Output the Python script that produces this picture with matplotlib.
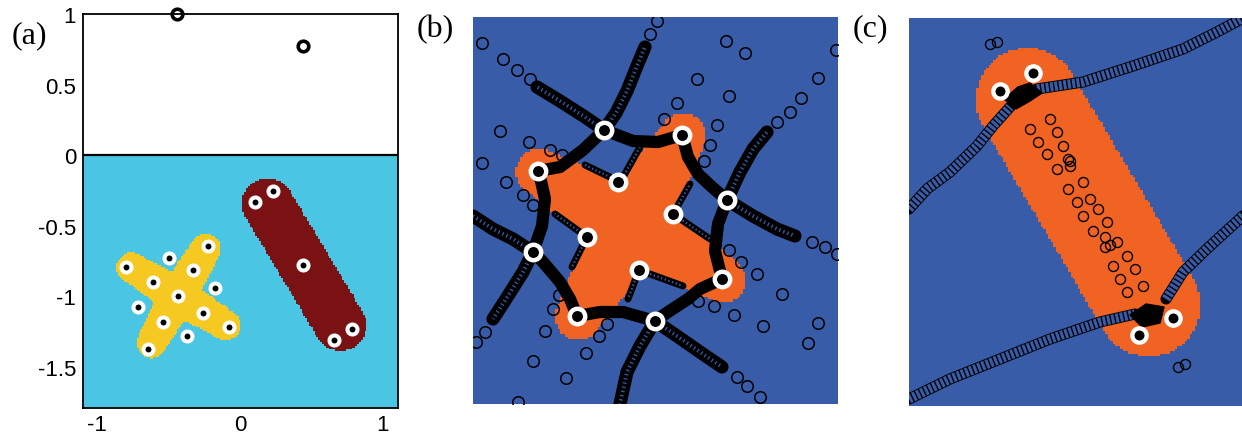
import numpy as np
import matplotlib.pyplot as plt
from matplotlib.colors import ListedColormap

plt.rcParams['axes.unicode_minus'] = False
plt.rcParams['lines.scale_dashes'] = False

W, H = 1242, 439

CYAN = '#4ac6e4'
YELLOW = '#f5c922'
MAROON = '#7a1214'
BLUE = '#385ca8'
ORANGE = '#f06323'

# ---------------- panel (a), data units ----------------
top_x = [-0.44, 0.44]
top_y = [1.0, 0.775]
cross_x = [-0.797, -0.224, -0.33, -0.61, -0.436, -0.259, -0.543, -0.077, -0.643]
cross_y = [-0.79, -0.64, -0.81, -0.90, -1.00, -1.116, -1.184, -1.218, -1.371]
stray_x = [-0.50, -0.175, -0.715, -0.373]
stray_y = [-0.73, -0.94, -1.076, -1.277]
rod_x = [0.103, 0.233, 0.438, 0.657, 0.785]
rod_y = [-0.329, -0.255, -0.778, -1.31, -1.23]

# cross: centre and arm tips, radius at centre / at tip
cross_centre = (-0.44, -1.0)
cross_tips = [(-0.765, -0.80), (-0.105, -1.21), (-0.625, -1.335), (-0.245, -0.665)]
cross_r = (0.135, 0.105)
# rod: axis end points and radius
rod_axis = [(0.19, -0.35), (0.70, -1.21)]
rod_r = 0.182

a_yticks = [1, 0.5, 0, -0.5, -1, -1.5]
a_xticks = [-1, 0, 1]

# ---------------- panel (b), pixel units ----------------
b_rings_x = [604, 682, 538, 618, 727, 673, 587, 533, 639, 722, 577, 655]
b_rings_y = [131, 136, 172, 183, 201, 215, 238, 253, 271, 280, 317, 322]

b_blob_centre = (630, 226)
b_blob_tips = [(538, 172), (682, 136), (722, 280), (577, 317)]
b_blob_r = (40, 23)

b_loop_x = [538, 560, 583, 604, 633, 658, 682, 688, 698, 712, 727, 718, 715, 722,
            700, 688, 668, 655, 623, 600, 577, 570, 560, 543, 533, 542, 545, 541, 538]
b_loop_y = [172, 168, 151, 131, 142, 143, 136, 158, 175, 188, 201, 225, 252, 280,
            290, 300, 313, 322, 313, 313, 317, 300, 283, 263, 253, 227, 200, 182, 172]

b_arms = [
    ([604, 585, 560, 537], [131, 118, 102, 88]),
    ([604, 616, 627, 637, 645], [131, 114, 92, 67, 48]),
    ([727, 753, 777, 795], [201, 217, 230, 237]),
    ([727, 740, 753, 767], [201, 173, 150, 133]),
    ([655, 677, 700, 722], [322, 337, 353, 368]),
    ([655, 640, 627, 620], [322, 347, 373, 405]),
    ([533, 523, 506, 493], [253, 273, 300, 320]),
    ([533, 513, 493, 473], [253, 240, 230, 217]),
]
b_trails = [
    ([585, 618], [166, 182]),
    ([640, 622], [148, 180]),
    ([673, 690], [215, 185]),
    ([673, 710], [215, 240]),
    ([587, 555], [238, 215]),
    ([587, 572], [238, 268]),
    ([639, 683], [271, 287]),
    ([639, 628], [271, 300]),
]
b_loose_x = [482, 503, 517, 530, 650, 657, 812, 825, 837, 777, 790, 801, 818,
             737, 747, 760, 485, 476,
             500, 529, 550, 562, 482, 506, 523, 533,
             726, 745, 697, 729, 677, 664, 717, 710, 704, 836,
             729, 741, 757, 782, 818, 808, 763, 734, 714, 698,
             559, 553, 545, 533, 566, 586, 599, 607, 518]
b_loose_y = [44, 60, 71, 80, 35, 22, 243, 248, 255, 123, 113, 99, 79,
             378, 387, 398, 333, 343,
             132, 143, 151, 156, 164, 183, 196, 206,
             42, 54, 80, 97, 104, 120, 126, 146, 162, 51,
             251, 263, 275, 295, 324, 344, 327, 316, 307, 302,
             296, 310, 332, 362, 379, 354, 337, 325, 403]

# ---------------- panel (c), pixel units ----------------
c_rings_x = [1000, 1033, 1173, 1139]
c_rings_y = [92, 74, 319, 336]
c_rod_axis = [(1027, 100), (1149, 306)]
c_rod_r = 52
c_tracks = [
    ([909, 927, 950, 977, 993, 1010], [210, 190, 173, 147, 127, 108]),
    ([1037, 1083, 1133, 1183, 1217, 1245], [90, 83, 67, 50, 33, 18]),
    ([909, 950, 1000, 1050, 1100, 1135], [400, 380, 360, 340, 323, 315]),
    ([1166, 1183, 1210, 1245], [300, 273, 247, 215]),
]
c_column_x = [1030, 1038, 1047, 1057, 1068, 1077, 1083, 1093, 1105, 1113, 1120, 1127,
              1050, 1057, 1063, 1070, 1083, 1090, 1098, 1107, 1117, 1127, 1135, 1143,
              1068, 1070, 1105, 1110]
c_column_y = [130, 143, 155, 170, 190, 203, 217, 232, 248, 267, 280, 293,
              120, 133, 147, 162, 183, 200, 210, 223, 243, 257, 270, 287,
              160, 167, 238, 246]
c_knot_top = ([1004, 1018, 1030, 1042, 1030, 1016], [100, 88, 84, 94, 102, 110])
c_knot_bottom = ([1130, 1146, 1164, 1160, 1142], [316, 305, 308, 324, 328])
c_loose_x = [990, 997, 1178, 1185]
c_loose_y = [45, 43, 368, 365]


def arm_mask(gx, gy, p0, p1, r0, r1):
    dx, dy = p1[0] - p0[0], p1[1] - p0[1]
    t = np.clip(((gx - p0[0]) * dx + (gy - p0[1]) * dy) / (dx * dx + dy * dy), 0, 1)
    d = np.hypot(gx - p0[0] - t * dx, gy - p0[1] - t * dy)
    return d <= r0 + (r1 - r0) * t


def px_axes(fig, x0, y0, x1, y1):
    ax = fig.add_axes([x0 / W, 1 - y1 / H, (x1 - x0) / W, (y1 - y0) / H])
    ax.set_xlim(x0, x1)
    ax.set_ylim(y1, y0)
    ax.set_xticks([])
    ax.set_yticks([])
    for s in ax.spines.values():
        s.set_visible(False)
    return ax


def chain(ax, xs, ys, width, inner, on, off, z=3):
    # a run of overlapping open circles: dark outline with broken interior
    ax.plot(xs, ys, color='black', lw=width, solid_capstyle='round',
            solid_joinstyle='round', zorder=z)
    ax.plot(xs, ys, color=BLUE, lw=inner, linestyle=(0, (on, off)),
            dash_capstyle='butt', zorder=z + 0.1)


fig = plt.figure(figsize=(W / 100, H / 100), dpi=100)

# ---- (a)
ax = fig.add_axes([83 / W, 1 - 409 / H, (398 - 83) / W, (409 - 15) / H])
ax.set_xlim(-1.1, 1.105)
ax.set_ylim(-1.79, 1.0)
step = 0.013
gx, gy = np.meshgrid(np.arange(-1.1, 1.105, step), np.arange(-1.79, 0.0, step))
field = np.zeros(gx.shape)
cross = np.zeros(gx.shape, dtype=bool)
for tip in cross_tips:
    cross |= arm_mask(gx, gy, cross_centre, tip, *cross_r)
field[cross] = 1
field[arm_mask(gx, gy, rod_axis[0], rod_axis[1], rod_r, rod_r)] = 2
ax.imshow(field, extent=(-1.1, 1.105, -1.79, 0.0), origin='lower', aspect='auto',
          interpolation='nearest', cmap=ListedColormap([CYAN, YELLOW, MAROON]),
          vmin=0, vmax=2, zorder=1)
ax.axhline(0, color='black', lw=1.6, zorder=2)
ax.plot(top_x, top_y, 'o', ms=7.6, mfc='none', mec='black', mew=2.6,
        clip_on=False, zorder=5)
for xs, ys in [(cross_x, cross_y), (stray_x, stray_y), (rod_x, rod_y)]:
    ax.plot(xs, ys, 'o', ms=7.2, mfc='black', mec='white', mew=2.9, zorder=4)
ax.set_yticks(a_yticks)
ax.set_yticklabels([f'{v:g}' for v in a_yticks])
ax.set_xticks(a_xticks)
ax.tick_params(length=0, labelsize=16, pad=5)
ax.tick_params(axis='x', pad=4)
for s in ax.spines.values():
    s.set_linewidth(1.3)
for lab in ax.get_xticklabels() + ax.get_yticklabels():
    lab.set_family('Liberation Sans')

# ---- (b)
bx = px_axes(fig, 473, 18, 838, 405)
gx, gy = np.meshgrid(np.arange(473, 838, 2.5), np.arange(18, 405, 2.5))
blob = np.zeros(gx.shape, dtype=bool)
for tip in b_blob_tips:
    blob |= arm_mask(gx, gy, b_blob_centre, tip, *b_blob_r)
bx.imshow(blob.astype(float), extent=(473, 838, 405, 18), origin='upper',
          aspect='auto', interpolation='nearest',
          cmap=ListedColormap([BLUE, ORANGE]), vmin=0, vmax=1, zorder=1)
for xs, ys in b_trails:
    chain(bx, xs, ys, 5.0, 1.6, 1.0, 1.8, z=2)
for xs, ys in b_arms:
    chain(bx, xs, ys, 9.5, 2.8, 0.9, 2.2, z=3)
bx.plot(b_loop_x, b_loop_y, color='black', lw=8.8, solid_joinstyle='round', zorder=4)
bx.plot(b_loose_x, b_loose_y, 'o', ms=8.3, mfc='none', mec='black', mew=1.1, zorder=3)
bx.plot(b_rings_x, b_rings_y, 'o', ms=11.1, mfc='black', mec='white', mew=3.2, zorder=6)

# ---- (c)
cx = px_axes(fig, 909, 19, 1242, 407)
gx, gy = np.meshgrid(np.arange(909, 1242, 2.5), np.arange(19, 407, 2.5))
rod = arm_mask(gx, gy, c_rod_axis[0], c_rod_axis[1], c_rod_r, c_rod_r)
cx.imshow(rod.astype(float), extent=(909, 1242, 407, 19), origin='upper',
          aspect='auto', interpolation='nearest',
          cmap=ListedColormap([BLUE, ORANGE]), vmin=0, vmax=1, zorder=1)
for xs, ys in c_tracks:
    chain(cx, xs, ys, 8.0, 6.7, 2.2, 1.0, z=3)
cx.plot(c_column_x, c_column_y, 'o', ms=7.2, mfc='none', mec='black', mew=1.0, zorder=3)
cx.plot(c_loose_x, c_loose_y, 'o', ms=7.2, mfc='none', mec='black', mew=1.0, zorder=3)
for xs, ys in [c_knot_top, c_knot_bottom]:
    cx.fill(xs, ys, color='black', zorder=4)
cx.plot(c_rings_x, c_rings_y, 'o', ms=10.3, mfc='black', mec='white', mew=3.1, zorder=6)

for label, x, y in [('(a)', 29, 36), ('(b)', 435, 30), ('(c)', 870, 29)]:
    fig.text(x / W, 1 - y / H, label, family='Liberation Serif', fontsize=23,
             ha='center', va='center')

fig.savefig('out.png', dpi=100)
